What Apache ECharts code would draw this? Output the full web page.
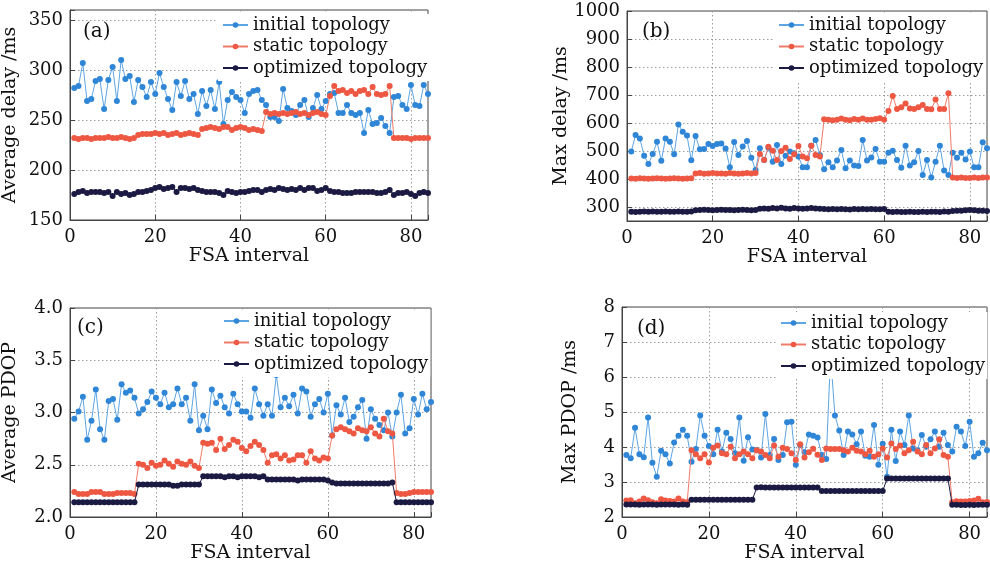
<!DOCTYPE html>
<html><head><meta charset="utf-8">
<script src="https://cdn.jsdelivr.net/npm/echarts@6/dist/echarts.min.js"></script>
<style>html,body{margin:0;padding:0;background:#fff}#c{width:990px;height:567px}</style>
</head><body><div id="c"></div>
<script>
const fsaInterval = [1,2,3,4,5,6,7,8,9,10,11,12,13,14,15,16,17,18,19,20,21,22,23,24,25,26,27,28,29,30,31,32,33,34,35,36,37,38,39,40,41,42,43,44,45,46,47,48,49,50,51,52,53,54,55,56,57,58,59,60,61,62,63,64,65,66,67,68,69,70,71,72,73,74,75,76,77,78,79,80,81,82,83,84];
const seriesNames = ['initial topology','static topology','optimized topology'];
const xTicks = [0,20,40,60,80];

// (a) Average delay /ms
const avgDelayInitial = [282,284,307,269,271,289,291,261,290,303,269,310,291,294,268,290,283,273,288,276,297,283,271,260,288,274,289,271,276,256,279,264,280,261,288,246,270,278,273,270,257,276,279,280,270,265,253,253,249,281,262,259,255,265,270,253,262,275,261,269,276,277,257,257,265,257,255,257,237,260,246,247,252,244,237,273,274,265,261,285,265,264,285,276];
const avgDelayStatic = [232,231,232,232,231,232,232,232,233,232,232,233,232,231,232,235,236,236,236,237,236,237,235,236,237,235,236,237,236,235,241,242,243,242,241,243,243,240,242,243,242,240,241,240,239,258,256,257,256,257,256,257,258,256,257,255,257,258,256,255,274,284,279,280,277,279,276,279,280,276,283,276,275,276,284,232,232,232,232,231,232,232,232,232];
const avgDelayOptimized = [176,178,179,177,178,178,178,177,178,174,178,176,177,175,176,178,178,179,180,182,183,181,182,183,178,182,182,181,182,180,179,178,178,178,177,175,179,178,177,178,178,179,180,180,178,180,181,180,182,181,180,181,180,182,180,182,182,179,180,182,179,178,178,177,177,177,178,178,178,178,178,177,177,178,180,175,177,177,178,176,174,177,178,177];

// (b) Max delay /ms
const maxDelayInitial = [498,557,545,483,454,489,533,465,545,533,488,595,569,555,467,554,506,507,525,518,525,527,509,442,532,486,516,536,476,432,510,468,512,462,521,454,483,498,492,480,442,442,519,539,486,435,460,442,466,504,438,466,448,446,539,466,477,507,462,462,494,501,468,440,519,448,460,500,414,468,405,462,519,430,414,494,476,494,470,498,442,442,531,510];
const maxDelayStatic = [402,401,403,402,401,402,403,402,401,402,403,402,401,402,403,420,421,419,420,421,420,420,419,421,420,419,420,421,420,421,489,468,515,501,468,500,512,471,488,518,480,474,519,486,480,613,612,610,612,616,612,610,614,612,616,612,612,614,617,612,643,696,650,656,670,652,650,656,664,650,649,684,650,650,706,405,404,405,404,404,405,404,405,405];
const maxDelayOptimized = [283,282,283,284,283,284,283,283,284,283,283,284,283,283,284,288,289,290,289,288,289,290,289,289,288,289,290,289,288,289,294,295,294,296,295,297,295,294,296,295,294,295,296,295,294,293,292,293,292,293,292,291,293,292,293,292,293,292,292,293,283,282,283,282,282,283,282,282,283,282,283,283,282,284,283,286,287,287,288,289,288,287,287,286];

// (c) Average PDOP
const avgPdopInitial = [2.94,3.01,3.15,2.74,2.92,3.22,2.84,2.74,3.11,3.13,2.93,3.27,3.19,3.21,3.14,2.99,3.03,3.10,3.20,3.14,3.08,3.19,3.05,3.08,3.23,3.08,3.14,2.92,3.27,2.83,2.97,2.84,3.22,3.09,3.16,3.05,2.99,3.18,3.08,3.01,3.01,2.95,3.23,3.08,2.97,3.08,2.97,3.36,3.05,3.14,3.06,3.17,2.99,3.23,3.20,2.96,3.08,3.13,3.00,3.18,2.78,3.07,2.98,3.14,2.91,2.96,3.05,3.12,2.75,3.03,2.94,2.88,2.83,3.00,2.77,3.00,3.17,2.80,2.85,3.13,2.98,3.18,3.03,3.10];
const avgPdopStatic = [2.24,2.22,2.22,2.22,2.24,2.24,2.24,2.22,2.22,2.22,2.23,2.23,2.23,2.23,2.22,2.51,2.50,2.47,2.52,2.49,2.50,2.54,2.51,2.48,2.53,2.51,2.50,2.53,2.49,2.47,2.71,2.70,2.71,2.64,2.75,2.65,2.69,2.74,2.72,2.66,2.63,2.68,2.72,2.69,2.64,2.52,2.59,2.60,2.56,2.59,2.54,2.55,2.59,2.59,2.52,2.63,2.56,2.54,2.57,2.56,2.78,2.84,2.86,2.84,2.82,2.80,2.85,2.83,2.82,2.86,2.80,2.77,2.94,2.82,2.80,2.23,2.22,2.22,2.23,2.24,2.24,2.24,2.24,2.24];
const avgPdopOptimized = [2.14,2.14,2.14,2.14,2.14,2.14,2.14,2.14,2.14,2.14,2.14,2.14,2.14,2.14,2.14,2.31,2.31,2.31,2.31,2.31,2.31,2.31,2.31,2.30,2.30,2.31,2.31,2.31,2.31,2.31,2.39,2.39,2.39,2.39,2.39,2.38,2.39,2.39,2.38,2.39,2.39,2.39,2.39,2.38,2.39,2.36,2.36,2.36,2.36,2.36,2.36,2.36,2.35,2.36,2.36,2.36,2.36,2.36,2.36,2.35,2.33,2.32,2.32,2.32,2.32,2.32,2.32,2.32,2.32,2.32,2.32,2.32,2.32,2.32,2.33,2.14,2.14,2.14,2.14,2.14,2.14,2.14,2.14,2.14];

// (d) Max PDOP /ms
const maxPdopInitial = [3.77,3.68,4.55,3.79,3.71,4.84,3.55,3.15,3.89,3.79,3.53,4.13,4.32,4.49,4.32,3.58,3.94,4.90,4.32,4.03,3.79,4.49,3.87,4.41,4.23,3.82,4.84,3.61,4.28,3.93,3.91,3.70,4.94,3.77,4.23,3.63,3.77,4.71,4.72,3.49,4.05,3.85,4.36,4.32,4.27,3.77,3.66,6.60,4.90,4.47,3.77,4.44,4.36,4.08,4.44,3.75,3.72,4.63,3.49,4.09,3.15,4.49,3.60,4.44,4.06,4.90,3.96,3.91,4.34,4.01,4.22,4.44,4.01,4.41,4.06,3.87,4.58,4.44,4.03,4.72,3.72,3.82,4.12,3.91];
const maxPdopStatic = [2.47,2.48,2.39,2.44,2.53,2.48,2.42,2.39,2.51,2.47,2.46,2.44,2.53,2.44,2.42,3.91,3.79,3.68,3.79,3.56,3.98,4.04,3.82,3.79,4.01,3.68,3.79,3.87,3.79,3.68,3.91,3.87,3.77,3.68,4.04,3.72,3.98,3.94,3.82,3.63,4.08,3.70,3.85,3.95,3.78,3.63,3.96,3.94,3.94,3.94,3.91,3.87,3.98,3.89,3.87,3.79,3.89,3.72,3.79,3.96,3.70,4.10,3.94,4.04,3.82,3.91,4.15,3.87,3.79,4.06,3.82,3.96,4.22,3.77,3.72,2.42,2.45,2.44,2.44,2.46,2.47,2.52,2.42,2.43];
const maxPdopOptimized = [2.36,2.36,2.36,2.35,2.36,2.36,2.36,2.35,2.36,2.36,2.36,2.36,2.35,2.36,2.35,2.49,2.49,2.49,2.49,2.49,2.49,2.49,2.49,2.49,2.49,2.49,2.49,2.49,2.49,2.49,2.84,2.85,2.84,2.84,2.84,2.84,2.84,2.84,2.84,2.84,2.84,2.84,2.84,2.84,2.84,2.74,2.74,2.74,2.74,2.74,2.74,2.74,2.74,2.74,2.74,2.74,2.74,2.74,2.74,2.74,3.10,3.10,3.10,3.10,3.10,3.10,3.10,3.10,3.10,3.10,3.10,3.10,3.10,3.10,3.10,2.35,2.35,2.34,2.34,2.35,2.34,2.35,2.35,2.35];

const panels = [
  {label:'(a)', yName:'Average delay /ms', data:[avgDelayInitial,avgDelayStatic,avgDelayOptimized]},
  {label:'(b)', yName:'Max delay /ms', data:[maxDelayInitial,maxDelayStatic,maxDelayOptimized]},
  {label:'(c)', yName:'Average PDOP', data:[avgPdopInitial,avgPdopStatic,avgPdopOptimized]},
  {label:'(d)', yName:'Max PDOP /ms', data:[maxPdopInitial,maxPdopStatic,maxPdopOptimized]}
];

const FONT = 'DejaVu Serif';
const markerColors = ['#2f86d6','#ee5843','#1b1a42'];
const lineColors = ['#5ea5e4','#f07a68','#1b1a42'];

const grids = [
  {left:67, top:10, width:361, height:210},
  {left:627, top:11, width:360, height:210},
  {left:67, top:308, width:364, height:209},
  {left:622, top:307, width:365, height:210}
];
const yCfg = [
  {min:150, max:360, interval:50, fmt:v => (v % 50 === 0 && v <= 350) ? String(v) : ''},
  {min:250, max:1000, splitNumber:7, fmt:v => (v % 100 === 0) ? String(v) : ''},
  {min:2, max:4, interval:0.5, fmt:v => v.toFixed(1)},
  {min:2, max:8, interval:1, fmt:v => String(v)}
];
const yNameGap = [50, 50, 50, 42];
const legendPos = [{left:218, top:14},{left:774, top:14},{left:219, top:310},{left:776, top:312}];
const labelPos = [{left:83, top:22},{left:642, top:22},{left:77, top:318},{left:637, top:319}];

const gridLine = {show:true, lineStyle:{color:'#9a9a9a', type:[1.5,2.5], width:1}};

const option = {
  animation:false,
  backgroundColor:'#fff',
  grid: grids.map(g => Object.assign({show:true, borderColor:'#444', borderWidth:1, backgroundColor:'transparent'}, g)),
  xAxis: grids.map((g,i) => ({
    gridIndex:i, type:'value', min:0, max:84, interval:20,
    name:'FSA interval', nameLocation:'middle', nameGap:27,
    nameTextStyle:{fontFamily:FONT, fontSize:19, color:'#111'},
    axisLine:{show:true, onZero:false, lineStyle:{color:'#444'}},
    axisTick:{show:true, inside:true, length:5, lineStyle:{color:'#444'}},
    axisLabel:{fontFamily:FONT, fontSize:18, color:'#111', margin:8, formatter:v => xTicks.includes(v) ? String(v) : ''},
    splitLine:gridLine
  })),
  yAxis: grids.map((g,i) => {
    const c = yCfg[i];
    const ax = {
      gridIndex:i, type:'value', min:c.min, max:c.max,
      name:panels[i].yName, nameLocation:'middle', nameGap:yNameGap[i], nameRotate:90,
      nameTextStyle:{fontFamily:FONT, fontSize:19, color:'#111'},
      axisLine:{show:true, onZero:false, lineStyle:{color:'#444'}},
      axisTick:{show:true, inside:true, length:5, lineStyle:{color:'#444'}},
      axisLabel:{fontFamily:FONT, fontSize:18, color:'#111', margin:7, formatter:c.fmt},
      splitLine:gridLine
    };
    if (c.interval) ax.interval = c.interval; else ax.splitNumber = c.splitNumber;
    return ax;
  }),
  legend: legendPos.map(p => ({
    left:p.left, top:p.top, orient:'vertical', data:seriesNames,
    itemWidth:25, itemHeight:7, itemGap:3.5,
    backgroundColor:'#fff', padding:[2,2,4,4],
    selectedMode:false,
    textStyle:{fontFamily:FONT, fontSize:18, color:'#111'}
  })),
  graphic: panels.map((p,i) => ({
    type:'text', left:labelPos[i].left, top:labelPos[i].top, z:10,
    style:{text:p.label, font:'20px "DejaVu Serif"', fill:'#111'}
  })),
  series: []
};

panels.forEach((p,i) => {
  p.data.forEach((arr,k) => {
    option.series.push({
      type:'line', name:seriesNames[k], xAxisIndex:i, yAxisIndex:i,
      data: fsaInterval.map((x,j) => [x, arr[j]]),
      symbol:'circle', symbolSize:6, showSymbol:true,
      itemStyle:{color:markerColors[k]},
      lineStyle:{color:lineColors[k], width:1},
      z: 2 + k
    });
  });
});

const chart = echarts.init(document.getElementById('c'), null, {renderer:'canvas'});
chart.setOption(option);
</script>
</body></html>
